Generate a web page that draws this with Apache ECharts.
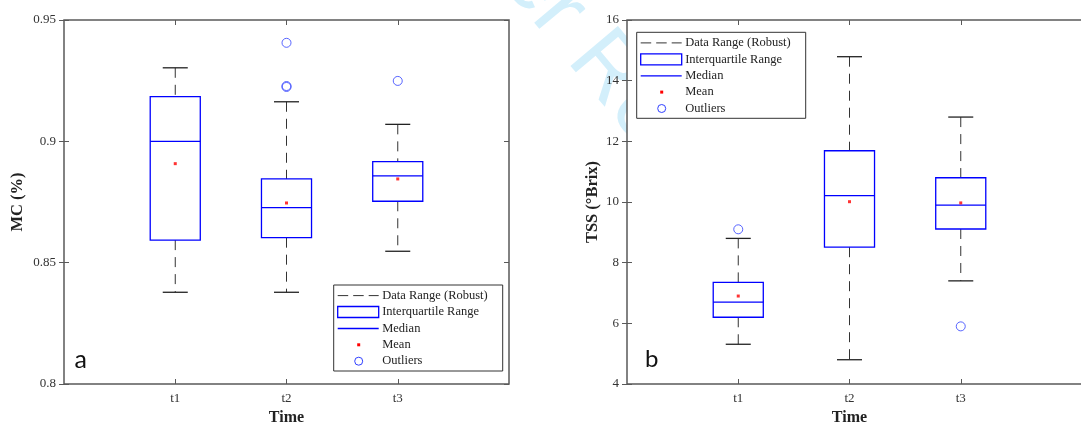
<!DOCTYPE html>
<html>
<head>
<meta charset="utf-8">
<script src="https://cdn.jsdelivr.net/npm/echarts@6/dist/echarts.min.js"></script>
<style>
html,body{margin:0;padding:0;background:#fff;}
#chart{width:1081px;height:424px;}
</style>
</head>
<body>
<div id="chart"></div>
<script>
// ---------- data ----------
const categories = ['t1', 't2', 't3'];

// Panel a: MC (%)
const mcLowerWhisker = [0.8378, 0.8378, 0.8547];
const mcQ1           = [0.8593, 0.8603, 0.8753];
const mcMedian       = [0.9000, 0.8727, 0.8858];
const mcQ3           = [0.9184, 0.8845, 0.8916];
const mcUpperWhisker = [0.9303, 0.9163, 0.9070];
const mcMean         = [0.8908, 0.8746, 0.8845];
const mcOutliers     = [['t2', 0.9406], ['t2', 0.9228], ['t2', 0.9224], ['t3', 0.9249]];

// Panel b: TSS (°Brix)
const tssLowerWhisker = [5.31, 4.80, 7.40];
const tssQ1           = [6.20, 8.51, 9.11];
const tssMedian       = [6.70, 10.21, 9.90];
const tssQ3           = [7.35, 11.69, 10.80];
const tssUpperWhisker = [8.80, 14.79, 12.80];
const tssMean         = [6.90, 10.01, 9.97];
const tssOutliers     = [['t1', 9.10], ['t3', 5.90]];

const legendItems = ['Data Range (Robust)', 'Interquartile Range', 'Median', 'Mean', 'Outliers'];

// ---------- helpers ----------
const SERIF = '"Liberation Serif", "Times New Roman", serif';
const FRAME = '#595959';
const BLUE = '#0000ff';
const BOX_W = 0.45, CAP_W = 0.225;
const ZL = 1; // chart layer (above watermark)

function catPos(name) { return categories.indexOf(name) + 1; }

function boxRows(lo, q1, med, q3, hi) {
  return categories.map((c, i) => [i + 1, lo[i], q1[i], med[i], q3[i], hi[i]]);
}

function renderBox(params, api) {
  const x = api.value(0);
  const pLo = api.coord([x, api.value(1)]);
  const pQ1 = api.coord([x, api.value(2)]);
  const pMed = api.coord([x, api.value(3)]);
  const pQ3 = api.coord([x, api.value(4)]);
  const pHi = api.coord([x, api.value(5)]);
  const bw = api.size([BOX_W, 0])[0];
  const cw = api.size([CAP_W, 0])[0];
  const cx = pLo[0];
  const dash = { stroke: '#333', lineWidth: 1, lineDash: [10, 7] };
  const cap = { stroke: '#222', lineWidth: 1.3 };
  return {
    type: 'group',
    children: [
      { type: 'line', shape: { x1: cx, y1: pHi[1], x2: cx, y2: pQ3[1] }, style: dash },
      { type: 'line', shape: { x1: cx, y1: pQ1[1], x2: cx, y2: pLo[1] }, style: dash },
      { type: 'line', shape: { x1: cx - cw / 2, y1: pHi[1], x2: cx + cw / 2, y2: pHi[1] }, style: cap },
      { type: 'line', shape: { x1: cx - cw / 2, y1: pLo[1], x2: cx + cw / 2, y2: pLo[1] }, style: cap },
      { type: 'rect', shape: { x: cx - bw / 2, y: pQ3[1], width: bw, height: pQ1[1] - pQ3[1] },
        style: { fill: 'rgba(0,0,0,0)', stroke: BLUE, lineWidth: 1.3 } },
      { type: 'line', shape: { x1: cx - bw / 2, y1: pMed[1], x2: cx + bw / 2, y2: pMed[1] },
        style: { stroke: BLUE, lineWidth: 1.3 } }
    ]
  };
}

function xAxes(gridIndex, max, nameShift) {
  const base = {
    type: 'value', gridIndex: gridIndex, min: 0, max: max, zlevel: ZL,
    splitLine: { show: false },
    axisLine: { show: false }
  };
  return [
    Object.assign({}, base, {
      position: 'bottom',
      name: 'Time', nameLocation: 'middle', nameGap: 25,
      nameTextStyle: { fontFamily: SERIF, fontWeight: 'bold', fontSize: 16, color: '#222',
        padding: [0, nameShift, 0, 0] },
      axisTick: { show: true, inside: true, length: 5, customValues: [1, 2, 3], lineStyle: { color: FRAME } },
      axisLabel: { show: true, customValues: [1, 2, 3], margin: 8,
        fontFamily: SERIF, fontSize: 13, color: '#333',
        formatter: v => categories[Math.round(v) - 1] || '' }
    }),
    Object.assign({}, base, {
      position: 'top',
      axisTick: { show: true, inside: true, length: 5, customValues: [1, 2, 3], lineStyle: { color: FRAME } },
      axisLabel: { show: false }
    })
  ];
}

function yAxes(gridIndex, min, max, interval, name, nameGap, fmt, withRight) {
  const base = {
    type: 'value', gridIndex: gridIndex, min: min, max: max, interval: interval, zlevel: ZL,
    splitLine: { show: false }, axisLine: { show: false }
  };
  const arr = [
    Object.assign({}, base, {
      position: 'left',
      name: name, nameLocation: 'middle', nameGap: nameGap,
      nameTextStyle: { fontFamily: SERIF, fontWeight: 'bold', fontSize: 16.5, color: '#222' },
      axisTick: { show: true, inside: false, length: 5, lineStyle: { color: FRAME } },
      axisLabel: { show: true, margin: 8, fontFamily: SERIF, fontSize: 13, color: '#333', formatter: fmt }
    }),
    Object.assign({}, base, {
      position: 'left',
      axisTick: { show: true, inside: true, length: 5, lineStyle: { color: FRAME } },
      axisLabel: { show: false }
    })
  ];
  if (withRight) {
    arr.push(Object.assign({}, base, {
      position: 'right',
      axisTick: { show: true, inside: true, length: 5, lineStyle: { color: FRAME } },
      axisLabel: { show: false }
    }));
  }
  return arr;
}

function legendGraphic(left, top) {
  const w = 169, h = 86, rowY = [10.6, 27, 43.5, 59.8, 76.2];
  const L = { zlevel: 2, z: 100 };
  const children = [
    Object.assign({ type: 'rect', shape: { x: 0, y: 0, width: w, height: h },
      style: { fill: '#fff', stroke: '#333', lineWidth: 1 } }, L),
    Object.assign({ type: 'line', shape: { x1: 4, y1: rowY[0], x2: 45, y2: rowY[0] },
      style: { stroke: '#333', lineWidth: 1, lineDash: [10.5, 5] } }, L),
    Object.assign({ type: 'rect', shape: { x: 4, y: rowY[1] - 5.5, width: 41, height: 11 },
      style: { fill: 'rgba(0,0,0,0)', stroke: BLUE, lineWidth: 1.3 } }, L),
    Object.assign({ type: 'line', shape: { x1: 4, y1: rowY[2], x2: 45, y2: rowY[2] },
      style: { stroke: BLUE, lineWidth: 1.3 } }, L),
    Object.assign({ type: 'rect', shape: { x: 23.5, y: rowY[3] - 1.5, width: 3, height: 3 },
      style: { fill: '#ff0000' } }, L),
    Object.assign({ type: 'circle', shape: { cx: 25, cy: rowY[4], r: 4 },
      style: { fill: '#fff', stroke: '#3040ff', lineWidth: 1 } }, L)
  ];
  legendItems.forEach((t, i) => {
    children.push(Object.assign({ type: 'text', x: 48.5, y: rowY[i],
      style: { text: t, fontFamily: SERIF, fontSize: 12.5, fill: '#222',
        textAlign: 'left', textVerticalAlign: 'middle' } }, L));
  });
  return { type: 'group', x: left, y: top, zlevel: 2, z: 100, children: children };
}

// ---------- chart ----------
const chart = echarts.init(document.getElementById('chart'), null, { renderer: 'canvas' });
const RIGHT_MAX = 4.5;

const option = {
  animation: false,
  backgroundColor: '#fff',
  grid: [
    { left: 64, top: 20, width: 445, height: 364, show: true, backgroundColor: '#fff',
      borderColor: FRAME, borderWidth: 1.5, zlevel: ZL, containLabel: false, outerBoundsMode: 'none' },
    { left: 627, top: 20, width: 445 * RIGHT_MAX / 4, height: 364, show: true, backgroundColor: '#fff',
      borderColor: FRAME, borderWidth: 1.5, zlevel: ZL, containLabel: false, outerBoundsMode: 'none' }
  ],
  xAxis: xAxes(0, 4, 0).concat(xAxes(1, RIGHT_MAX, 2 * (RIGHT_MAX / 2 - 2) * 111.25)),
  yAxis: yAxes(0, 0.8, 0.95, 0.05, 'MC (%)', 38, v => +v.toFixed(2) + '', true)
    .concat(yAxes(1, 4, 16, 2, 'TSS (°Brix)', 26, v => v + '', false)),
  series: [
    { type: 'custom', xAxisIndex: 0, yAxisIndex: 0, renderItem: renderBox, zlevel: ZL,
      encode: { x: 0, y: [1, 2, 3, 4, 5] },
      data: boxRows(mcLowerWhisker, mcQ1, mcMedian, mcQ3, mcUpperWhisker), z: 3 },
    { type: 'scatter', xAxisIndex: 0, yAxisIndex: 0, symbol: 'rect', symbolSize: 3, zlevel: ZL,
      itemStyle: { color: '#ff0000' }, data: mcMean.map((v, i) => [i + 1, v]), z: 4 },
    { type: 'scatter', xAxisIndex: 0, yAxisIndex: 0, symbol: 'circle', symbolSize: 9, zlevel: ZL,
      itemStyle: { color: 'rgba(255,255,255,0)', borderColor: '#3040ff', borderWidth: 1 },
      data: mcOutliers.map(o => [catPos(o[0]), o[1]]), z: 4 },

    { type: 'custom', xAxisIndex: 2, yAxisIndex: 3, renderItem: renderBox, zlevel: ZL,
      encode: { x: 0, y: [1, 2, 3, 4, 5] },
      data: boxRows(tssLowerWhisker, tssQ1, tssMedian, tssQ3, tssUpperWhisker), z: 3 },
    { type: 'scatter', xAxisIndex: 2, yAxisIndex: 3, symbol: 'rect', symbolSize: 3, zlevel: ZL,
      itemStyle: { color: '#ff0000' }, data: tssMean.map((v, i) => [i + 1, v]), z: 4 },
    { type: 'scatter', xAxisIndex: 2, yAxisIndex: 3, symbol: 'circle', symbolSize: 9, zlevel: ZL,
      itemStyle: { color: 'rgba(255,255,255,0)', borderColor: '#3040ff', borderWidth: 1 },
      data: tssOutliers.map(o => [catPos(o[0]), o[1]]), z: 4 }
  ],
  graphic: [
    { type: 'text', x: 378, y: -272, rotation: -50 * Math.PI / 180, zlevel: 0, z: 0, silent: true,
      style: { text: 'For Peer Review', fontFamily: '"Liberation Sans", Arial, sans-serif',
        fontSize: 90, fill: '#d3effb', textAlign: 'left', textVerticalAlign: 'top' } },
    legendGraphic(333.7, 285),
    legendGraphic(636.7, 32.3),
    { type: 'text', x: 74.5, y: 372.5, zlevel: 2, z: 100,
      style: { text: 'a', fontFamily: 'Lato, "Open Sans", sans-serif', fontSize: 25, fill: '#111',
        textAlign: 'left', textVerticalAlign: 'bottom' } },
    { type: 'text', x: 645, y: 371.5, zlevel: 2, z: 100,
      style: { text: 'b', fontFamily: 'Lato, "Open Sans", sans-serif', fontSize: 24, fill: '#111',
        textAlign: 'left', textVerticalAlign: 'bottom' } }
  ]
};
chart.setOption(option);
</script>
</body>
</html>
